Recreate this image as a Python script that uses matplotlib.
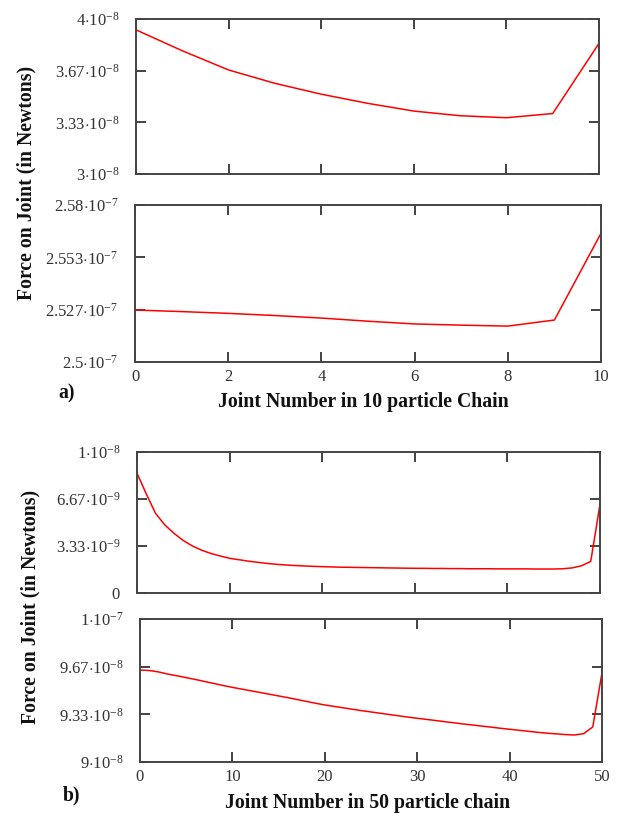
import matplotlib
matplotlib.use("Agg")
import matplotlib.pyplot as plt
import numpy as np

plt.rcParams['font.family'] = 'Liberation Serif'
plt.rcParams['mathtext.fontset'] = 'custom'
plt.rcParams['mathtext.rm'] = 'Liberation Serif'
plt.rcParams['mathtext.it'] = 'Liberation Serif'

# 10 particle chain
joints10 = list(range(11))
force10_top = [3.93, 3.795, 3.671, 3.585, 3.515, 3.456, 3.406, 3.376, 3.363, 3.39, 3.843]   # x1e-8
force10_bot = [2.5265, 2.5257, 2.5248, 2.5237, 2.5224, 2.5208, 2.5194, 2.5188, 2.5183, 2.5214, 2.5656]  # x1e-7

# 50 particle chain
joints50 = list(range(51))
force50_top = [8.50, 7.03, 5.65, 4.83, 4.23, 3.72, 3.33, 3.03, 2.80, 2.62,
               2.46, 2.36, 2.26, 2.18, 2.10, 2.04, 1.99, 1.95, 1.92, 1.89,
               1.87, 1.85, 1.83, 1.82, 1.81, 1.80, 1.79, 1.78, 1.77, 1.76,
               1.75, 1.75, 1.74, 1.74, 1.73, 1.73, 1.72, 1.72, 1.72, 1.71,
               1.71, 1.71, 1.71, 1.70, 1.70, 1.70, 1.72, 1.78, 1.93, 2.24, 6.30]  # x1e-9
force50_bot = [9.643, 9.640, 9.630, 9.615, 9.603, 9.590, 9.577, 9.563, 9.549, 9.535,
               9.522, 9.510, 9.498, 9.486, 9.474, 9.462, 9.450, 9.437, 9.424, 9.411,
               9.399, 9.389, 9.379, 9.369, 9.359, 9.350, 9.341, 9.332, 9.323, 9.314,
               9.306, 9.298, 9.290, 9.282, 9.274, 9.266, 9.259, 9.251, 9.244, 9.236,
               9.229, 9.222, 9.215, 9.208, 9.202, 9.197, 9.192, 9.189, 9.198, 9.245, 9.624]  # x1e-8

yt1 = [3.0, 3.333, 3.667, 4.0]
yl1 = [r'$3{\cdot}10^{-8}$', r'$3.33{\cdot}10^{-8}$', r'$3.67{\cdot}10^{-8}$', r'$4{\cdot}10^{-8}$']
yt2 = [2.5, 2.52667, 2.55333, 2.58]
yl2 = [r'$2.5{\cdot}10^{-7}$', r'$2.527{\cdot}10^{-7}$', r'$2.553{\cdot}10^{-7}$', r'$2.58{\cdot}10^{-7}$']
yt3 = [0, 3.333, 6.667, 10]
yl3 = [r'$0$', r'$3.33{\cdot}10^{-9}$', r'$6.67{\cdot}10^{-9}$', r'$1{\cdot}10^{-8}$']
yt4 = [9.0, 9.333, 9.667, 10.0]
yl4 = [r'$9{\cdot}10^{-8}$', r'$9.33{\cdot}10^{-8}$', r'$9.67{\cdot}10^{-8}$', r'$1{\cdot}10^{-7}$']

xt10 = [0, 2, 4, 6, 8, 10]
xt50 = [0, 10, 20, 30, 40, 50]

fig = plt.figure(figsize=(6.23, 8.15), dpi=100)

def panel(rect, x, y, xt, yt, yl, xlabels):
    ax = fig.add_axes(rect)
    ax.plot(x, y, color='red', lw=1.1)
    ax.set_xlim(xt[0], xt[-1])
    ax.set_ylim(yt[0], yt[-1])
    ax.set_xticks(xt)
    ax.set_yticks(yt)
    ax.set_yticklabels(yl, fontsize=12)
    if xlabels:
        ax.set_xticklabels([str(v) for v in xt], fontsize=12)
    else:
        ax.set_xticklabels([])
    ax.tick_params(direction='in', top=True, right=True, length=7, width=1.2,
                   color='#222222', labelcolor='#333333')
    ax.tick_params(axis='y', pad=12)
    ax.tick_params(axis='x', pad=5)
    for s in ax.spines.values():
        s.set_linewidth(1.4)
        s.set_color('#444444')
    return ax

panel([0.2183, 0.7865, 0.7432, 0.1902], joints10, force10_top, xt10, yt1, yl1, False)
panel([0.2167, 0.5558, 0.748, 0.1926], joints10, force10_bot, xt10, yt2, yl2, True)
panel([0.2199, 0.2724, 0.7432, 0.1730], joints50, force50_top, xt50, yt3, yl3, False)
panel([0.2247, 0.0650, 0.7416, 0.1755], joints50, force50_bot, xt50, yt4, yl4, True)

lab = dict(fontsize=14.2, fontweight='bold', color='#111111')
fig.text(0.042, 0.775, 'Force on Joint (in Newtons)', rotation=90, ha='center', va='center', **lab)
fig.text(0.049, 0.255, 'Force on Joint (in Newtons)', rotation=90, ha='center', va='center', **lab)
fig.text(0.584, 1 - 402 / 815, 'Joint Number in 10 particle Chain', ha='center', va='center', **lab)
fig.text(0.590, 1 - 803 / 815, 'Joint Number in 50 particle chain', ha='center', va='center', **lab)
fig.text(58 / 623, 1 - 393 / 815, 'a)', ha='left', va='center', **lab)
fig.text(63 / 623, 1 - 795 / 815, 'b)', ha='left', va='center', **lab)

fig.savefig('out.png', dpi=100)
